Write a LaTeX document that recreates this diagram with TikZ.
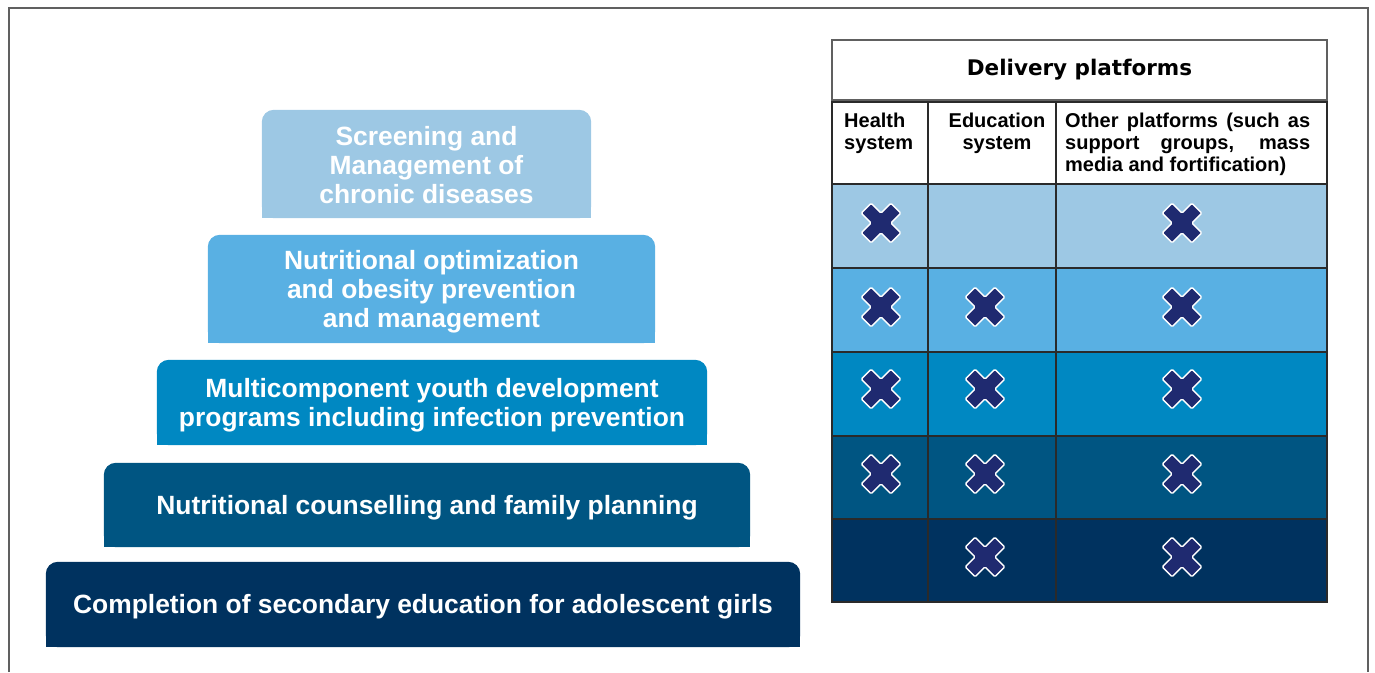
\documentclass[tikz,border=0pt]{standalone}
\usepackage{fontspec}
\setmainfont{Liberation Sans}
\newfontfamily\hdfont{DejaVu Sans}
\usetikzlibrary{backgrounds}
\definecolor{cA}{HTML}{9DC8E4}
\definecolor{cB}{HTML}{59B0E3}
\definecolor{cC}{HTML}{0088C2}
\definecolor{cD}{HTML}{005582}
\definecolor{cE}{HTML}{00325F}
\definecolor{xnavy}{HTML}{1F2A70}
\definecolor{framec}{HTML}{606060}
\definecolor{tline}{HTML}{2A2A2A}
\tikzset{
  tier/.style={inner sep=0pt},
  tiertext/.style={inner sep=0pt, text=white, align=center, yshift=-2.5pt,
     font=\bfseries\fontsize{26.4}{29}\selectfont},
  tbl/.style={draw=tline, line width=1.6pt},
  rowcell/.style={inner sep=0pt, draw=none, minimum width=495pt},
  colhd/.style={inner sep=0pt, align=left, text=black, font=\bfseries\fontsize{20}{22}\selectfont},
  xmk/.pic={\filldraw[white, fill=xnavy, line width=1.4pt, rounded corners=1.2pt, rotate=45]
     (-7,-21) -- (7,-21) -- (7,-7) -- (21,-7) -- (21,7) -- (7,7) -- (7,21) -- (-7,21)
     -- (-7,7) -- (-21,7) -- (-21,-7) -- (-7,-7) -- cycle;}
}
\newcommand\tierbg[2]{%
  \fill[#2, rounded corners=12pt] (#1.south west) rectangle (#1.north east);
  \fill[#2] (#1.south west) rectangle (#1.east);}
\begin{document}
\begin{tikzpicture}[x=1pt,y=-1pt]
\useasboundingbox (0,0) rectangle (1375,672);
\draw[framec, line width=1.5pt] (9,672) -- (9,8) -- (1368,8) -- (1368,672);

% pyramid tiers
\node[tier, minimum width=329pt, minimum height=108pt] (t1) at (426.5,164) {};
\node[tier, minimum width=447pt, minimum height=108pt] (t2) at (431.5,289) {};
\node[tier, minimum width=550pt, minimum height=85pt] (t3) at (432,402.5) {};
\node[tier, minimum width=646pt, minimum height=84pt] (t4) at (427,505) {};
\node[tier, minimum width=754pt, minimum height=85pt] (t5) at (423,604.5) {};
\node[tiertext, yshift=1pt] (t1x) at (t1.center) {Screening and\\Management of\\chronic diseases};
\node[tiertext] (t2x) at (t2.center) {Nutritional optimization\\and obesity prevention\\and management};
\node[tiertext] (t3x) at (t3.center) {Multicomponent youth development\\programs including infection prevention};
\node[tiertext] (t4x) at (t4.center) {Nutritional counselling and family planning};
\node[tiertext] (t5x) at (t5.center) {Completion of secondary education for adolescent girls};

% table header
\node[tbl, draw=framec, minimum width=495pt, minimum height=60pt, inner sep=0pt,
  font=\hdfont\bfseries\fontsize{21.5}{24}\selectfont] (hdr) at (1079.5,70) {Delivery platforms};

% rows
\node[rowcell, fill=cA, minimum height=84pt] (r1) at (1079.5,226) {};
\node[rowcell, fill=cB, minimum height=84pt] (r2) at (1079.5,310) {};
\node[rowcell, fill=cC, minimum height=84pt] (r3) at (1079.5,394) {};
\node[rowcell, fill=cD, minimum height=83pt] (r4) at (1079.5,477.5) {};
\node[rowcell, fill=cE, minimum height=83pt] (r5) at (1079.5,560.5) {};

% grid
\draw[tbl] (832,102) rectangle (1327,602);
\draw[tbl] (928,102) -- (928,602);
\draw[tbl] (1056,102) -- (1056,602);
\draw[tbl] (832,184) -- (1327,184);
\draw[tbl] (832,268) -- (1327,268);
\draw[tbl] (832,352) -- (1327,352);
\draw[tbl] (832,436) -- (1327,436);
\draw[tbl] (832,519) -- (1327,519);

% column headers
\node[colhd, anchor=north west] (ch1) at (844,113) {Health\\system};
\node[colhd, align=center, anchor=north] (ch2) at (997,113) {Education\\system};
\node[colhd, anchor=north west] (ch3) at (1065,113)
  {\makebox[245pt][s]{Other platforms (such as}\\\makebox[245pt][s]{support groups, mass}\\media and fortification)};

% crosses
\pic (x11) at (881,223) {xmk};
\pic (x13) at (1182,223) {xmk};
\pic (x21) at (881,307) {xmk};
\pic (x22) at (985,307) {xmk};
\pic (x23) at (1182,307) {xmk};
\pic (x31) at (881,389) {xmk};
\pic (x32) at (985,389) {xmk};
\pic (x33) at (1182,389) {xmk};
\pic (x41) at (881,474) {xmk};
\pic (x42) at (985,474) {xmk};
\pic (x43) at (1182,474) {xmk};
\pic (x52) at (985,557) {xmk};
\pic (x53) at (1182,557) {xmk};

\begin{scope}[on background layer]
  \tierbg{t1}{cA}
  \tierbg{t2}{cB}
  \tierbg{t3}{cC}
  \tierbg{t4}{cD}
  \tierbg{t5}{cE}
\end{scope}
\end{tikzpicture}
\end{document}
